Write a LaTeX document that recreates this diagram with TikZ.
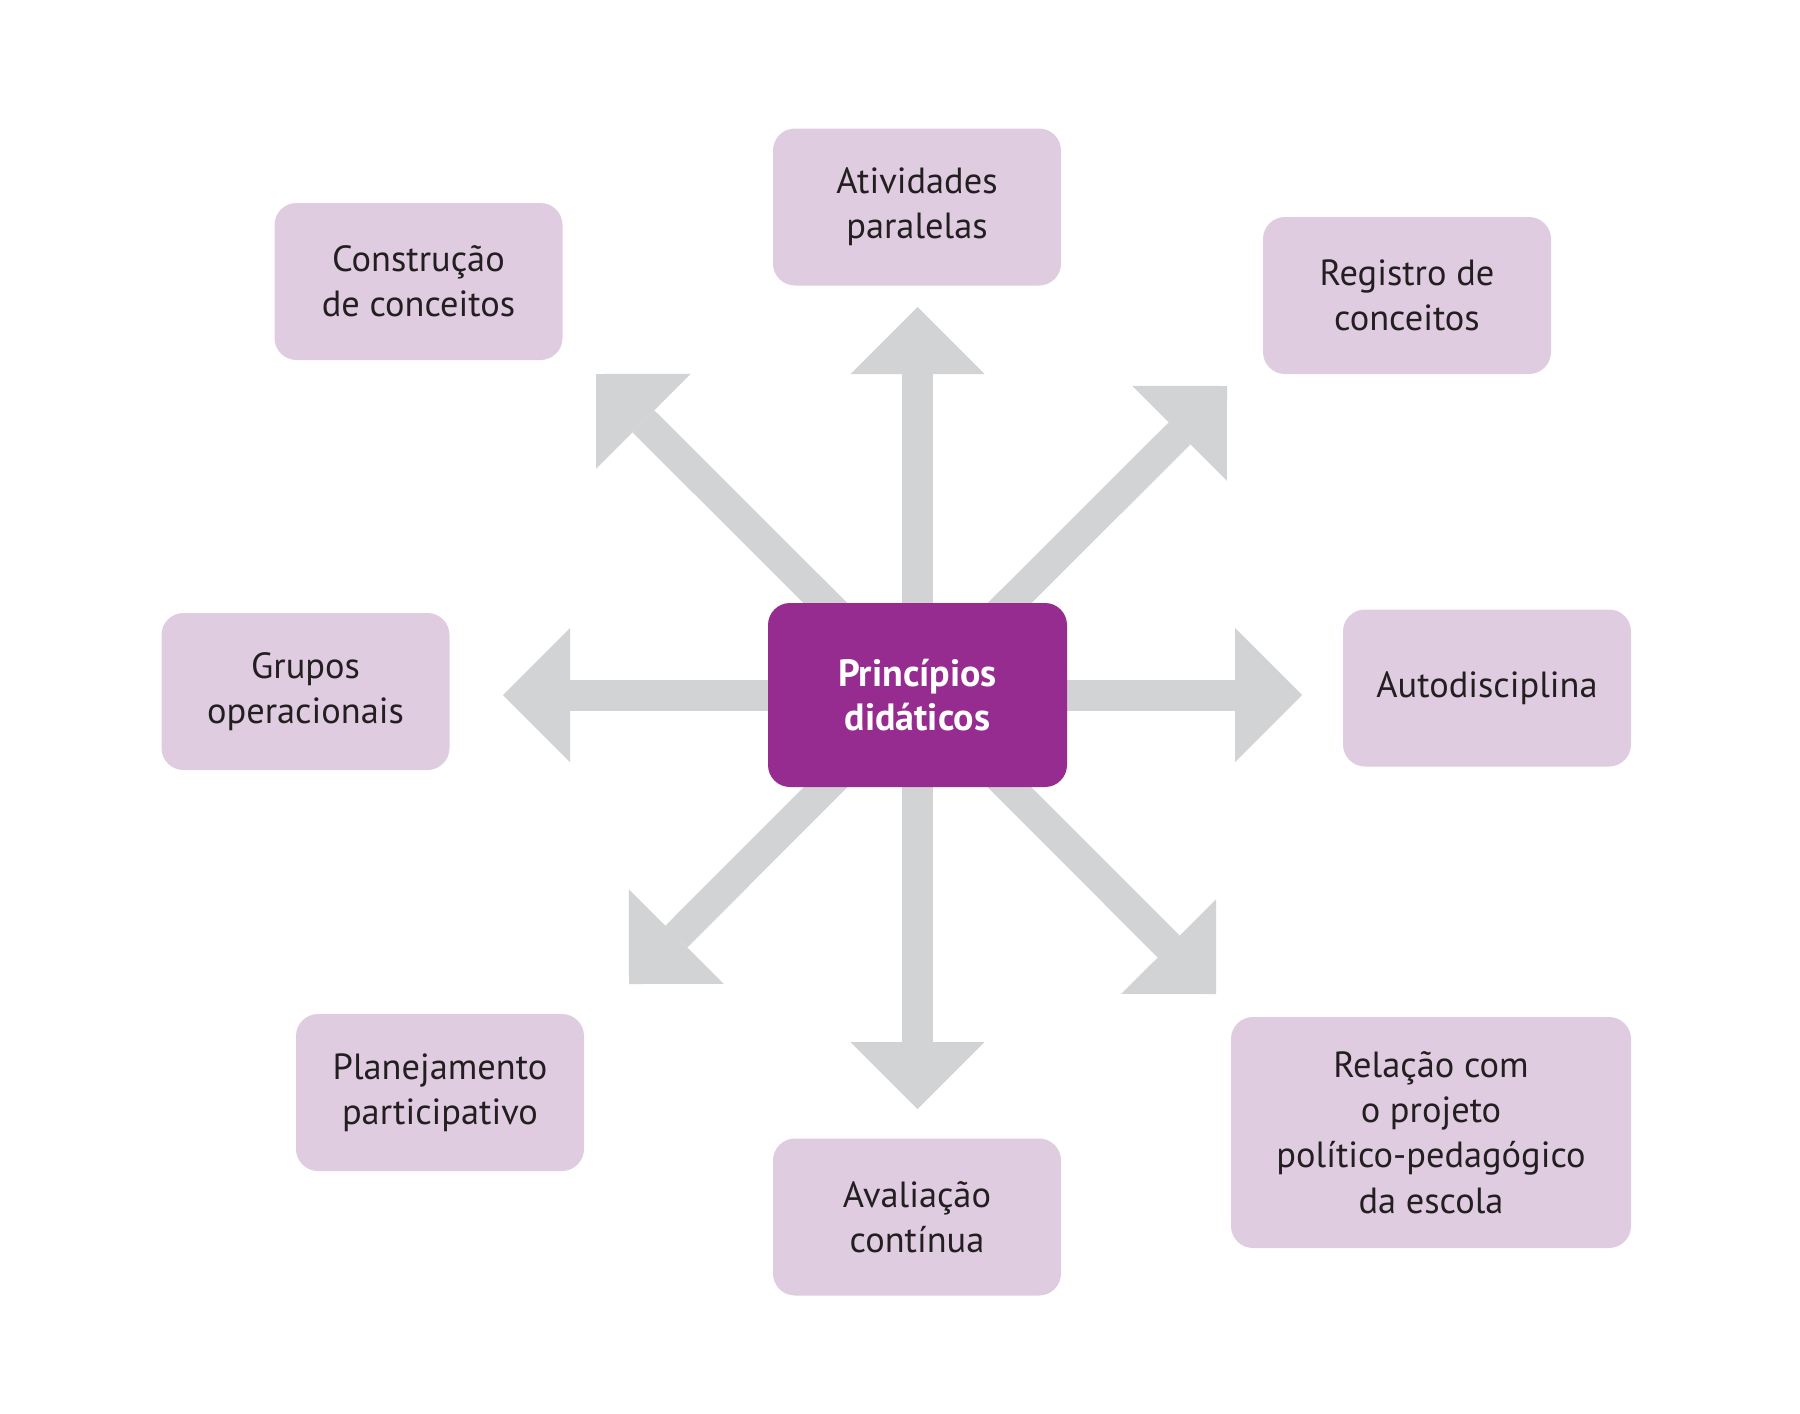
\documentclass[tikz,border=0pt]{standalone}
\usepackage{fontspec}
\setmainfont{PT Sans}
\usetikzlibrary{arrows.meta,backgrounds}
\definecolor{lilas}{RGB}{223,204,225}
\definecolor{roxo}{RGB}{150,44,143}
\definecolor{cinza}{RGB}{209,211,212}
\definecolor{texto}{RGB}{35,31,32}
\begin{document}
\begin{tikzpicture}[x=0.5pt,y=0.5pt,yscale=-1,xscale=1,
  caixa/.style={fill=lilas,rounded corners=11pt,minimum width=144pt,minimum height=78.5pt,align=center,text=texto,inner sep=0pt,font=\fontsize{18.2}{22.6}\selectfont},
  centro/.style={fill=roxo,rounded corners=11pt,minimum width=149.5pt,minimum height=92pt,align=center,text=white,inner sep=0pt,font=\bfseries\fontsize{19}{22.4}\selectfont},
  seta/.style={draw=cinza,line width=15.5pt,-{Triangle[length=33.5pt,width=67pt,line width=0pt]}}]
\useasboundingbox (0,0) rectangle (1800,1414);
\node [centro] (hub) at (917.5,695) {Princípios\\didáticos};
\node [caixa] (atividades) at (917,207) {Atividades\\paralelas};
\node [caixa] (construcao) at (418.5,281.5) {Construção\\de conceitos};
\node [caixa] (registro) at (1407,295.5) {Registro de\\conceitos};
\node [caixa] (grupos) at (305.5,691.5) {Grupos\\operacionais};
\node [caixa] (autodisc) at (1487,688) {Autodisciplina};
\node [caixa] (planej) at (440,1092.5) {Planejamento\\participativo};
\node [caixa] (avaliacao) at (917,1217) {Avaliação\\contínua};
\node [caixa,minimum width=200pt,minimum height=115.5pt] (relacao) at (1431,1132.5) {Relação com\\o projeto\\político-pedagógico\\da escola};
\coordinate (pN) at (917.5,307);
\coordinate (pS) at (917.5,1109);
\coordinate (pW) at (503,695);
\coordinate (pE) at (1302,695);
\coordinate (pNW) at (596,374);
\coordinate (pNE) at (1227,386);
\coordinate (pSW) at (629,984);
\coordinate (pSE) at (1216,994);
\begin{scope}[on background layer]
\foreach \p in {pN,pS,pW,pE,pNW,pNE,pSW,pSE}
  \draw [seta] (hub.center) -- (\p);
\end{scope}
\end{tikzpicture}
\end{document}
